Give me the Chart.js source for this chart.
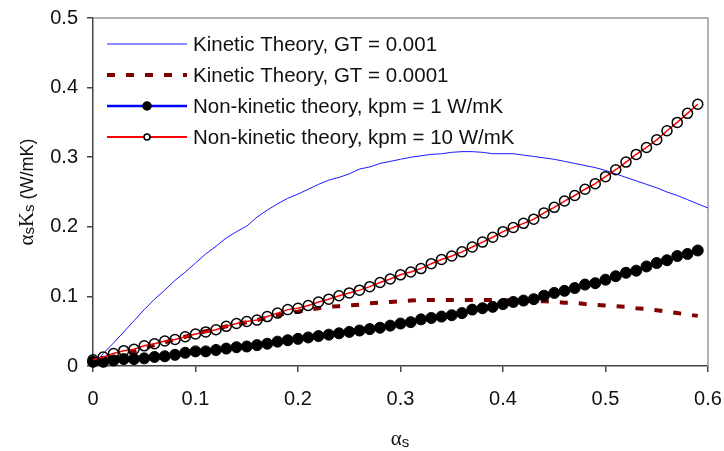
<!DOCTYPE html>
<html>
<head>
<meta charset="utf-8">
<script src="https://cdn.jsdelivr.net/npm/chart.js@4"></script>
<style>
  html, body { margin: 0; padding: 0; background: #fff; }
</style>
</head>
<body>
<canvas id="chart" width="724" height="451"></canvas>
<script>
// volume fraction of solids (non-kinetic series, step 0.01)
const alphaS = [0, 0.01, 0.02, 0.03, 0.04, 0.05, 0.06, 0.07, 0.08, 0.09,
  0.10, 0.11, 0.12, 0.13, 0.14, 0.15, 0.16, 0.17, 0.18, 0.19,
  0.20, 0.21, 0.22, 0.23, 0.24, 0.25, 0.26, 0.27, 0.28, 0.29,
  0.30, 0.31, 0.32, 0.33, 0.34, 0.35, 0.36, 0.37, 0.38, 0.39,
  0.40, 0.41, 0.42, 0.43, 0.44, 0.45, 0.46, 0.47, 0.48, 0.49,
  0.50, 0.51, 0.52, 0.53, 0.54, 0.55, 0.56, 0.57, 0.58, 0.59];

// non-kinetic theory, kpm = 1 W/mK
const kpm1 = [0.006, 0.006, 0.008, 0.010, 0.010, 0.011, 0.013, 0.014, 0.016, 0.019,
  0.021, 0.021, 0.023, 0.025, 0.027, 0.028, 0.030, 0.032, 0.035, 0.037,
  0.039, 0.041, 0.043, 0.045, 0.047, 0.049, 0.051, 0.053, 0.055, 0.058,
  0.061, 0.063, 0.067, 0.069, 0.071, 0.073, 0.076, 0.081, 0.083, 0.085,
  0.089, 0.092, 0.094, 0.096, 0.101, 0.105, 0.108, 0.112, 0.117, 0.119,
  0.124, 0.129, 0.134, 0.137, 0.143, 0.148, 0.152, 0.158, 0.161, 0.166];

// non-kinetic theory, kpm = 10 W/mK
const kpm10 = [0.009, 0.013, 0.018, 0.022, 0.024, 0.029, 0.032, 0.036, 0.038, 0.042,
  0.046, 0.049, 0.052, 0.057, 0.061, 0.064, 0.066, 0.071, 0.076, 0.081,
  0.083, 0.087, 0.092, 0.096, 0.101, 0.105, 0.109, 0.114, 0.120, 0.125,
  0.131, 0.135, 0.140, 0.147, 0.153, 0.158, 0.164, 0.171, 0.178, 0.185,
  0.193, 0.199, 0.205, 0.211, 0.220, 0.228, 0.237, 0.245, 0.254, 0.262,
  0.272, 0.282, 0.293, 0.304, 0.314, 0.325, 0.338, 0.350, 0.363, 0.376];

// kinetic theory, GT = 0.001 (runs out to 0.60)
const ktAlpha = alphaS.concat([0.60]);
const ktGT001 = [0, 0.018, 0.033, 0.049, 0.065, 0.081, 0.096, 0.109, 0.123, 0.135,
  0.148, 0.161, 0.172, 0.184, 0.193, 0.201, 0.214, 0.224, 0.233, 0.241,
  0.247, 0.254, 0.261, 0.267, 0.271, 0.276, 0.283, 0.286, 0.291, 0.294,
  0.297, 0.300, 0.302, 0.304, 0.305, 0.307, 0.308, 0.308, 0.307, 0.305,
  0.305, 0.305, 0.303, 0.301, 0.299, 0.297, 0.294, 0.291, 0.288, 0.285,
  0.281, 0.276, 0.271, 0.266, 0.261, 0.256, 0.250, 0.245, 0.239, 0.233, 0.227];

// kinetic theory, GT = 0.0001
const ktGT0001 = [0, 0.006, 0.011, 0.016, 0.021, 0.026, 0.030, 0.034, 0.038, 0.042,
  0.046, 0.050, 0.053, 0.057, 0.060, 0.063, 0.066, 0.070, 0.073, 0.076,
  0.078, 0.081, 0.083, 0.085, 0.086, 0.087, 0.088, 0.090, 0.091, 0.092,
  0.093, 0.094, 0.095, 0.095, 0.095, 0.095, 0.095, 0.095, 0.095, 0.095,
  0.095, 0.094, 0.094, 0.093, 0.093, 0.092, 0.091, 0.091, 0.089, 0.088,
  0.087, 0.086, 0.085, 0.083, 0.082, 0.080, 0.078, 0.076, 0.074, 0.072];

const xTicks = [0, 0.1, 0.2, 0.3, 0.4, 0.5, 0.6];
const xTickLabels = ['0', '0.1', '0.2', '0.3', '0.4', '0.5', '0.6'];
const yTicks = [0, 0.1, 0.2, 0.3, 0.4, 0.5];
const yTickLabels = ['0', '0.1', '0.2', '0.3', '0.4', '0.5'];

const seriesNames = [
  'Kinetic Theory, GT = 0.001',
  'Kinetic Theory, GT = 0.0001',
  'Non-kinetic theory, kpm = 1 W/mK',
  'Non-kinetic theory, kpm = 10 W/mK'
];

const SANS = '"Liberation Sans", Arial, sans-serif';
const SERIF = '"Liberation Serif", "Times New Roman", serif';
const TEXT = '#111';

function pts(xs, ys) {
  return ys.map((y, i) => ({ x: xs[i], y: y }));
}

// draws a row of text pieces (mixed fonts, subscripts) centred on 0,0
function drawRuns(ctx, runs) {
  let total = 0;
  runs.forEach(r => { ctx.font = r.font; r.w = ctx.measureText(r.t).width; total += r.w; });
  let x = -total / 2;
  ctx.textBaseline = 'alphabetic';
  ctx.textAlign = 'left';
  runs.forEach(r => {
    ctx.font = r.font;
    ctx.fillText(r.t, x, r.dy || 0);
    x += r.w;
  });
}

const decorations = {
  id: 'decorations',
  beforeDatasetsDraw(chart) {
    const { ctx, chartArea: a } = chart;
    ctx.save();
    ctx.strokeStyle = '#9a9a9a';
    ctx.lineWidth = 1.5;
    ctx.beginPath();
    ctx.moveTo(a.left, a.top);
    ctx.lineTo(a.right, a.top);
    ctx.lineTo(a.right, a.bottom);
    ctx.stroke();
    ctx.restore();
  },
  afterDraw(chart) {
    const { ctx } = chart;
    ctx.save();
    ctx.fillStyle = TEXT;

    // y axis title
    ctx.save();
    ctx.translate(33, 192);
    ctx.rotate(-Math.PI / 2);
    drawRuns(ctx, [
      { t: 'α', font: '21px ' + SERIF },
      { t: 's', font: '15px ' + SANS, dy: 1 },
      { t: 'K', font: '21px ' + SERIF },
      { t: 's', font: '15px ' + SANS, dy: 1 },
      { t: ' (W/mK)', font: '18px ' + SANS }
    ]);
    ctx.restore();

    // x axis title
    ctx.save();
    ctx.translate(400, 445);
    drawRuns(ctx, [
      { t: 'α', font: '21px ' + SERIF },
      { t: 's', font: '15px ' + SANS, dy: 2 }
    ]);
    ctx.restore();

    // legend
    const x0 = 107, x1 = 187, tx = 193;
    chart.data.datasets.forEach((ds, i) => {
      const y = 44 + i * 31;
      ctx.save();
      ctx.strokeStyle = ds.borderColor;
      ctx.lineWidth = ds.legendLineWidth || ds.borderWidth;
      ctx.setLineDash(ds.borderDash || []);
      ctx.beginPath();
      ctx.moveTo(x0, y);
      ctx.lineTo(x1, y);
      ctx.stroke();
      ctx.setLineDash([]);
      if (ds.pointRadius > 0) {
        ctx.beginPath();
        ctx.arc((x0 + x1) / 2, y, ds.legendPointRadius, 0, Math.PI * 2);
        ctx.fillStyle = ds.pointBackgroundColor === 'rgba(0,0,0,0)' ? '#fff' : ds.pointBackgroundColor;
        ctx.fill();
        ctx.strokeStyle = ds.pointBorderColor;
        ctx.lineWidth = 1.5;
        ctx.stroke();
      }
      ctx.restore();
      ctx.fillStyle = TEXT;
      ctx.font = '20.5px ' + SANS;
      ctx.textAlign = 'left';
      ctx.textBaseline = 'middle';
      ctx.fillText(ds.label, tx, y + 1);
    });
    ctx.restore();
  }
};

const axisCommon = {
  type: 'linear',
  grid: { drawOnChartArea: false, drawTicks: true, tickLength: 6, color: '#444', lineWidth: 1.5 },
  border: { display: true, color: '#444', width: 1.5 },
};

new Chart(document.getElementById('chart'), {
  type: 'line',
  data: {
    datasets: [
      {
        label: seriesNames[0],
        data: pts(ktAlpha, ktGT001),
        borderColor: '#1a1aff',
        borderWidth: 1,
        pointRadius: 0,
        order: 3
      },
      {
        label: seriesNames[1],
        data: pts(alphaS, ktGT0001),
        borderColor: '#800000',
        borderWidth: 4,
        borderDash: [8, 11],
        pointRadius: 0,
        order: 2
      },
      {
        label: seriesNames[2],
        data: pts(alphaS, kpm1),
        borderColor: '#0000ff',
        borderWidth: 1.5,
        legendLineWidth: 2.5,
        pointRadius: 5.5,
        legendPointRadius: 4,
        pointBorderWidth: 1,
        pointBackgroundColor: '#000',
        pointBorderColor: '#000',
        clip: false,
        order: 1
      },
      {
        label: seriesNames[3],
        data: pts(alphaS, kpm10),
        borderColor: '#ff0000',
        borderWidth: 1.5,
        legendLineWidth: 2,
        pointRadius: 5,
        legendPointRadius: 3,
        pointBorderWidth: 1.5,
        pointBackgroundColor: 'rgba(0,0,0,0)',
        pointBorderColor: '#000',
        clip: false,
        order: 0
      }
    ]
  },
  options: {
    responsive: false,
    animation: false,
    devicePixelRatio: 1,
    layout: { padding: { top: 18, right: 0, left: 0, bottom: 0 } },
    elements: { line: { tension: 0 } },
    plugins: {
      legend: { display: false },
      tooltip: { enabled: false }
    },
    scales: {
      x: {
        ...axisCommon,
        min: 0,
        max: 0.6,
        afterBuildTicks: s => { s.ticks = xTicks.map(v => ({ value: v })); },
        afterFit: s => {
          s.height = 85;
          s.paddingLeft = 0;
          s.paddingRight = 16;
        },
        ticks: {
          callback: (v, i) => xTickLabels[i],
          font: { family: SANS, size: 20 },
          color: TEXT,
          padding: 15,
          maxRotation: 0,
          autoSkip: false
        }
      },
      y: {
        ...axisCommon,
        min: 0,
        max: 0.5,
        afterBuildTicks: s => { s.ticks = yTicks.map(v => ({ value: v })); },
        afterFit: s => {
          s.width = 93;
          s.paddingTop = 0;
          s.paddingBottom = 0;
        },
        ticks: {
          callback: (v, i) => yTickLabels[i],
          font: { family: SANS, size: 20 },
          color: TEXT,
          padding: 9,
          autoSkip: false
        }
      }
    }
  },
  plugins: [decorations]
});
</script>
</body>
</html>
